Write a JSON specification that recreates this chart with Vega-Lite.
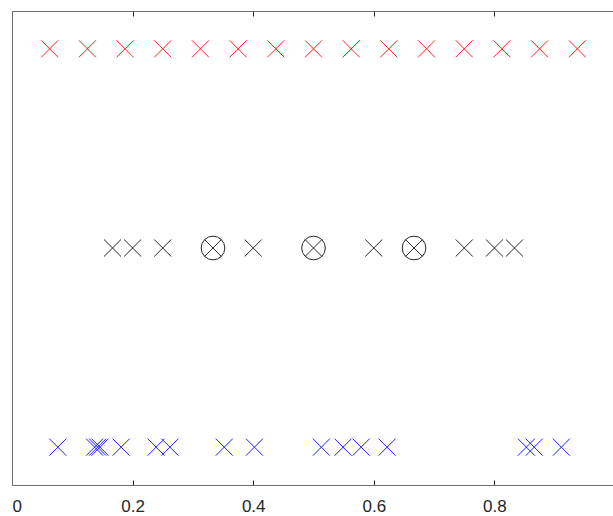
{
  "$schema": "https://vega.github.io/schema/vega-lite/v6.json",
  "width": 603,
  "height": 474,
  "autosize": {"type": "none"},
  "padding": {"left": 12, "top": 11, "right": 0, "bottom": 31},
  "background": "white",
  "config": {
    "view": {"stroke": null},
    "axis": {
      "domainColor": "#6e6e6e",
      "domainWidth": 1,
      "tickColor": "#262626",
      "tickWidth": 1,
      "labelColor": "#262626",
      "labelFont": "Liberation Sans",
      "labelFontSize": 17,
      "grid": false,
      "title": null
    }
  },
  "datasets": {
    "points": [
      {"x": 0.0625, "row": 3, "series": "red"},
      {"x": 0.125, "row": 3, "series": "red"},
      {"x": 0.1875, "row": 3, "series": "red"},
      {"x": 0.25, "row": 3, "series": "red"},
      {"x": 0.3125, "row": 3, "series": "red"},
      {"x": 0.375, "row": 3, "series": "red"},
      {"x": 0.4375, "row": 3, "series": "red"},
      {"x": 0.5, "row": 3, "series": "red"},
      {"x": 0.5625, "row": 3, "series": "red"},
      {"x": 0.625, "row": 3, "series": "red"},
      {"x": 0.6875, "row": 3, "series": "red"},
      {"x": 0.75, "row": 3, "series": "red"},
      {"x": 0.8125, "row": 3, "series": "red"},
      {"x": 0.875, "row": 3, "series": "red"},
      {"x": 0.9375, "row": 3, "series": "red"},
      {"x": 0.1667, "row": 2, "series": "black"},
      {"x": 0.2, "row": 2, "series": "black"},
      {"x": 0.25, "row": 2, "series": "black"},
      {"x": 0.3333, "row": 2, "series": "black"},
      {"x": 0.4, "row": 2, "series": "black"},
      {"x": 0.5, "row": 2, "series": "black"},
      {"x": 0.6, "row": 2, "series": "black"},
      {"x": 0.6667, "row": 2, "series": "black"},
      {"x": 0.75, "row": 2, "series": "black"},
      {"x": 0.8, "row": 2, "series": "black"},
      {"x": 0.8333, "row": 2, "series": "black"},
      {"x": 0.076, "row": 1, "series": "blue"},
      {"x": 0.137, "row": 1, "series": "blue"},
      {"x": 0.142, "row": 1, "series": "blue"},
      {"x": 0.146, "row": 1, "series": "blue"},
      {"x": 0.181, "row": 1, "series": "blue"},
      {"x": 0.239, "row": 1, "series": "blue"},
      {"x": 0.262, "row": 1, "series": "blue"},
      {"x": 0.352, "row": 1, "series": "blue"},
      {"x": 0.402, "row": 1, "series": "blue"},
      {"x": 0.513, "row": 1, "series": "blue"},
      {"x": 0.549, "row": 1, "series": "blue"},
      {"x": 0.579, "row": 1, "series": "blue"},
      {"x": 0.622, "row": 1, "series": "blue"},
      {"x": 0.853, "row": 1, "series": "blue"},
      {"x": 0.866, "row": 1, "series": "blue"},
      {"x": 0.911, "row": 1, "series": "blue"}
    ],
    "rings": [
      {"x": 0.3333, "row": 2},
      {"x": 0.5, "row": 2},
      {"x": 0.6667, "row": 2}
    ]
  },
  "layer": [
    {
      "data": {"name": "points"},
      "mark": {
        "type": "point",
        "shape": "M-1,-1L1,1M1,-1L-1,1",
        "filled": false,
        "size": 290,
        "strokeWidth": 1,
        "opacity": 1
      },
      "encoding": {
        "x": {
          "field": "x",
          "type": "quantitative",
          "scale": {"domain": [0, 1], "nice": false, "zero": false},
          "axis": {
            "orient": "bottom",
            "values": [0, 0.2, 0.4, 0.6, 0.8],
            "format": "~g",
            "tickSize": -5,
            "labelPadding": 18
          }
        },
        "y": {
          "field": "row",
          "type": "quantitative",
          "scale": {"domain": [0.81, 3.19], "nice": false, "zero": false},
          "axis": {"orient": "left", "labels": false, "ticks": false}
        },
        "color": {
          "field": "series",
          "type": "nominal",
          "scale": {"domain": ["red", "black", "blue"], "range": ["#ff2020", "#262626", "#2020ff"]},
          "legend": null
        }
      }
    },
    {
      "data": {"name": "rings"},
      "mark": {
        "type": "point",
        "shape": "circle",
        "filled": false,
        "size": 560,
        "strokeWidth": 1,
        "color": "#262626",
        "opacity": 1
      },
      "encoding": {
        "x": {
          "field": "x",
          "type": "quantitative",
          "axis": {
            "orient": "top",
            "values": [0, 0.2, 0.4, 0.6, 0.8],
            "labels": false,
            "tickSize": -5
          }
        },
        "y": {"field": "row", "type": "quantitative"}
      }
    }
  ],
  "resolve": {"axis": {"x": "independent"}}
}
